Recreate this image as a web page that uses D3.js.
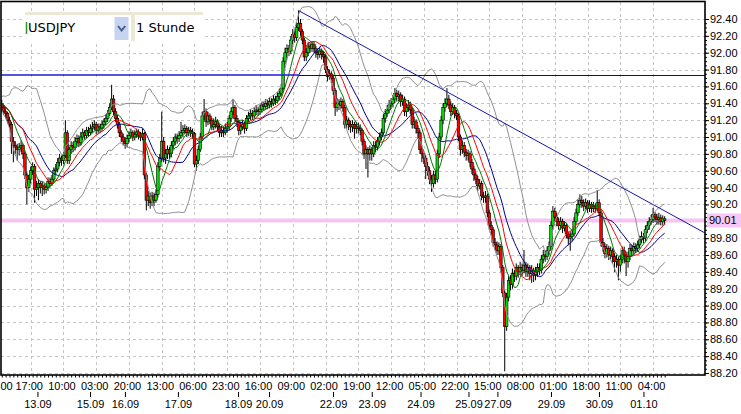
<!DOCTYPE html>
<html><head><meta charset="utf-8">
<script src="https://cdn.jsdelivr.net/npm/d3@7/dist/d3.min.js"></script>
<style>body{margin:0;background:#fff;}svg{display:block;}</style>
</head><body>
<svg id="c" width="741" height="414"></svg>
<script>
// ---- data (USDJPY, 1 hour bars) ----
const firstOpen = 91.50;
const close = [
91.45,91.40,91.35,91.30,91.28,91.20,91.15,90.95,90.90,90.88,90.85,90.88,90.90,90.80,90.55,90.40,90.50,
90.60,90.65,90.38,90.40,90.45,90.40,90.42,90.38,90.40,90.47,90.45,90.50,90.60,90.62,90.70,90.75,90.72,
90.78,91.05,90.72,90.85,90.90,90.88,90.95,90.98,90.93,91.00,91.05,91.02,91.08,91.05,91.10,91.12,91.15,
91.08,91.12,91.10,91.15,91.18,91.22,91.28,91.35,91.45,91.30,91.22,91.15,91.05,91.00,90.95,90.92,90.98,
91.02,91.05,91.00,91.03,91.06,91.02,91.00,91.04,90.55,90.25,90.30,90.22,90.30,90.25,90.32,90.65,90.75,
90.95,90.75,90.80,90.85,90.80,90.90,90.95,91.00,90.98,91.02,91.05,91.08,91.10,91.05,91.08,91.06,91.04,
90.68,90.72,90.85,91.00,91.25,91.30,91.18,91.25,91.20,91.12,91.15,91.18,91.12,91.05,91.08,91.05,91.10,
91.12,91.22,91.30,91.35,91.22,91.18,91.08,91.12,91.15,91.10,91.22,91.25,91.28,91.25,91.30,91.32,91.30,
91.33,91.38,91.36,91.40,91.38,91.42,91.40,91.45,91.43,91.48,91.52,91.58,91.90,92.00,92.05,92.02,92.15,
92.22,92.18,92.30,92.35,92.25,92.15,91.95,92.00,92.08,92.05,92.10,92.05,92.00,91.98,92.02,91.98,91.95,
91.80,91.72,91.75,91.70,91.55,91.35,91.40,91.38,91.42,91.35,91.15,91.20,91.15,91.12,91.15,91.10,91.12,
91.10,91.08,90.95,90.80,90.85,90.80,90.85,90.80,90.90,90.88,90.95,91.00,91.05,91.22,91.28,91.32,91.38,
91.40,91.45,91.52,91.48,91.50,91.42,91.45,91.30,91.35,91.38,91.32,91.15,91.18,91.10,91.05,90.85,90.80,
90.75,90.65,90.60,90.50,90.45,90.55,90.50,90.80,91.00,91.20,91.35,91.40,91.45,91.38,91.30,91.35,91.28,
91.25,91.00,90.85,90.90,90.82,90.78,90.80,90.70,90.62,90.55,90.50,90.42,90.45,90.30,90.28,90.30,90.10,
89.95,89.90,89.75,89.72,89.65,89.70,89.45,89.15,88.75,89.10,89.30,89.25,89.38,89.35,89.45,89.40,89.45,
89.42,89.48,89.40,89.45,89.38,89.42,89.36,89.40,89.45,89.42,89.55,89.60,89.58,89.65,89.70,89.95,90.12,
90.05,90.00,89.95,90.00,89.92,89.95,89.85,89.80,89.82,89.85,90.00,90.10,90.20,90.25,90.22,90.18,90.22,
90.15,90.20,90.15,90.18,90.15,90.22,90.10,89.75,89.70,89.62,89.68,89.60,89.65,89.58,89.52,89.55,89.48,
89.55,89.65,89.60,89.52,89.58,89.68,89.65,89.70,89.68,89.72,89.78,89.82,89.80,89.90,89.95,90.00,90.02,
90.08,90.05,90.02,90.04,90.00,90.03,90.01];
const high = [
91.55,91.50,91.44,91.38,91.34,91.30,91.24,91.18,91.00,90.95,90.92,90.93,90.96,90.92,90.82,90.58,90.55,
90.65,90.70,90.68,90.48,90.50,90.48,90.47,90.45,90.45,90.52,90.52,90.55,90.64,90.68,90.75,90.80,90.78,
90.82,91.20,91.08,90.88,90.95,90.94,91.00,91.03,91.02,91.06,91.10,91.08,91.12,91.12,91.15,91.18,91.20,
91.18,91.16,91.16,91.20,91.22,91.27,91.32,91.40,91.62,91.50,91.34,91.26,91.18,91.08,91.04,91.00,91.03,
91.07,91.10,91.08,91.08,91.10,91.09,91.06,91.10,91.06,90.58,90.36,90.34,90.35,90.34,90.38,90.70,90.80,
91.30,91.00,90.86,90.90,90.88,90.95,91.00,91.04,91.04,91.07,91.18,91.14,91.15,91.13,91.12,91.12,91.10,
91.06,90.78,90.90,91.05,91.30,91.45,91.34,91.30,91.28,91.23,91.22,91.24,91.21,91.15,91.13,91.12,91.16,
91.18,91.26,91.35,91.45,91.38,91.26,91.20,91.18,91.20,91.18,91.26,91.30,91.33,91.32,91.35,91.38,91.36,
91.38,91.42,91.42,91.45,91.44,91.47,91.46,91.50,91.49,91.53,91.57,91.63,91.95,92.06,92.10,92.09,92.20,
92.28,92.26,92.36,92.50,92.40,92.28,92.18,92.06,92.13,92.12,92.14,92.13,92.08,92.04,92.07,92.05,92.02,
91.98,91.84,91.80,91.78,91.74,91.58,91.46,91.45,91.47,91.45,91.38,91.25,91.23,91.19,91.20,91.18,91.18,
91.17,91.15,91.10,90.98,90.90,90.88,90.90,90.88,90.95,90.95,91.00,91.05,91.10,91.27,91.33,91.38,91.44,
91.46,91.50,91.58,91.56,91.55,91.53,91.50,91.48,91.40,91.44,91.42,91.35,91.24,91.21,91.14,91.08,90.90,
90.84,90.78,90.70,90.64,90.55,90.60,90.60,90.85,91.05,91.25,91.40,91.46,91.58,91.50,91.42,91.40,91.38,
91.32,91.28,91.03,90.96,90.94,90.86,90.85,90.83,90.74,90.66,90.58,90.54,90.50,90.48,90.35,90.36,90.33,
90.14,90.00,89.93,89.80,89.76,89.75,89.73,89.48,89.18,89.15,89.35,89.36,89.44,89.42,89.50,89.48,89.52,
89.50,89.66,89.52,89.50,89.48,89.48,89.45,89.46,89.50,89.50,89.60,89.66,89.65,89.70,89.76,90.00,90.18,
90.16,90.10,90.04,90.05,90.03,90.00,89.98,89.88,89.88,89.90,90.05,90.15,90.26,90.32,90.30,90.26,90.27,
90.25,90.25,90.23,90.23,90.21,90.37,90.26,90.13,89.80,89.74,89.73,89.71,89.70,89.68,89.62,89.60,89.58,
89.60,89.70,89.70,89.64,89.64,89.73,89.72,89.75,89.74,89.77,89.83,89.88,89.86,89.95,90.00,90.05,90.08,
90.16,90.11,90.09,90.10,90.08,90.07,90.06];
const low = [
91.40,91.36,91.30,91.26,91.22,91.16,91.10,90.80,90.70,90.80,90.72,90.78,90.82,90.74,90.50,90.20,90.35,
90.45,90.55,90.22,90.30,90.25,90.33,90.30,90.32,90.33,90.36,90.40,90.42,90.47,90.55,90.58,90.65,90.66,
90.68,90.75,90.68,90.68,90.80,90.82,90.84,90.90,90.88,90.90,90.96,90.97,90.98,91.00,91.02,91.05,91.08,
91.03,91.04,91.05,91.07,91.10,91.14,91.18,91.25,91.32,91.26,91.18,91.10,91.00,90.94,90.90,90.86,90.88,
90.94,90.98,90.95,90.96,90.99,90.97,90.95,90.96,90.50,90.13,90.18,90.15,90.18,90.18,90.22,90.28,90.60,
90.70,90.70,90.68,90.74,90.74,90.76,90.86,90.90,90.92,90.94,90.98,91.00,91.03,91.00,91.01,91.00,90.98,
90.64,90.60,90.68,90.82,90.97,91.20,91.12,91.14,91.15,91.08,91.08,91.10,91.07,91.00,91.00,91.00,91.02,
91.05,91.08,91.18,91.26,91.18,91.12,91.02,91.03,91.08,91.04,91.07,91.18,91.20,91.20,91.22,91.26,91.25,
91.26,91.29,91.31,91.32,91.33,91.34,91.35,91.37,91.38,91.40,91.44,91.48,91.55,91.86,91.95,91.96,91.98,
92.10,92.12,92.14,92.26,92.20,92.10,91.90,91.90,91.96,92.00,92.01,92.00,91.94,91.92,91.94,91.92,91.88,
91.76,91.66,91.68,91.64,91.50,91.25,91.30,91.32,91.33,91.30,91.10,91.10,91.08,91.05,91.06,90.98,91.04,
91.04,91.02,90.90,90.74,90.62,90.52,90.72,90.72,90.76,90.82,90.84,90.90,90.96,91.02,91.17,91.24,91.28,
91.33,91.35,91.40,91.42,91.42,91.36,91.37,91.25,91.24,91.30,91.27,91.10,91.10,91.04,90.98,90.80,90.70,
90.68,90.50,90.54,90.44,90.35,90.40,90.44,90.46,90.75,90.96,91.15,91.30,91.36,91.33,91.25,91.26,91.22,
91.20,90.95,90.78,90.80,90.76,90.72,90.72,90.64,90.56,90.48,90.44,90.36,90.38,90.25,90.22,90.22,90.05,
89.90,89.84,89.70,89.66,89.60,89.60,89.40,89.10,88.22,88.70,89.05,89.18,89.20,89.28,89.30,89.33,89.36,
89.35,89.38,89.34,89.34,89.30,89.27,89.28,89.30,89.34,89.36,89.38,89.50,89.52,89.54,89.60,89.66,89.90,
90.00,89.94,89.90,89.90,89.86,89.88,89.80,89.72,89.65,89.76,89.82,89.96,90.06,90.16,90.16,90.12,90.14,
90.10,90.11,90.10,90.11,90.10,90.12,90.06,89.70,89.64,89.56,89.57,89.54,89.55,89.50,89.40,89.45,89.30,
89.40,89.50,89.50,89.35,89.45,89.54,89.58,89.60,89.62,89.64,89.68,89.74,89.74,89.76,89.86,89.90,89.96,
89.98,89.99,89.96,89.96,89.95,89.95,89.96];

const hourLabels = ["00","17:00","10:00","03:00","20:00","13:00","06:00","23:00","16:00","09:00","02:00",
  "19:00","12:00","05:00","22:00","15:00","08:00","01:00","18:00","11:00","04:00"];
const hourBars = [0,17,34,51,68,85,102,119,136,153,170,187,204,221,238,255,272,289,306,323,340];
const dateLabels = ["13.09","15.09","16.09","17.09","18.09","20.09","22.09","23.09","24.09","25.09","27.09","29.09","30.09","01.10"];
const dateBars = [20.5,47.8,65.9,93.4,124.6,140.7,173.9,194,219.3,244.2,259.2,287,311.9,335];
const priceLabels = [92.4,92.2,92.0,91.8,91.6,91.4,91.2,91.0,90.8,90.6,90.4,90.2,89.8,89.6,89.4,89.2,89.0,88.8,88.6,88.4,88.2];
const gridPrices = [92.4,92.2,92.0,91.8,91.6,91.4,91.2,91.0,90.8,90.6,90.4,90.2,90.0,89.8,89.6,89.4,89.2,89.0,88.8,88.6,88.4,88.2];
const lastPrice = 90.01;
const levelPrice = 91.73;
const levelSplitBar = 156;
const trendStart = [156, 92.50];
const trendEnd = [367, 89.86];
const periods = {fast: 8, mid: 14, slow: 21};

// ---- layout ----
const L = 1, R = 705, T = 2, B = 375;
const svg = d3.select("#c");
const x = d3.scaleLinear().domain([17, 340]).range([30.7, 653.1]);
const y = d3.scaleLinear().domain([88.2, 92.4]).range([373, 19]);
const AX_FONT = "Liberation Sans, Arial, sans-serif";

const bars = close.map((c, i) => ({i, o: i === 0 ? firstOpen : close[i-1], c, h: high[i], l: low[i]}));

svg.append("defs").append("clipPath").attr("id", "clip")
  .append("rect").attr("x", L).attr("y", T).attr("width", R - L).attr("height", B - T);

const plot = svg.append("g").attr("clip-path", "url(#clip)");

// grid
plot.append("g").selectAll("line").data(gridPrices).join("line")
  .attr("x1", L).attr("x2", R).attr("y1", d => Math.round(y(d)) + 0.5).attr("y2", d => Math.round(y(d)) + 0.5)
  .attr("stroke", "#c4c4c4").attr("stroke-dasharray", "3,3");
plot.append("g").selectAll("line").data(hourBars).join("line")
  .attr("y1", T).attr("y2", B).attr("x1", d => Math.round(x(d)) + 0.5).attr("x2", d => Math.round(x(d)) + 0.5)
  .attr("stroke", "#c4c4c4").attr("stroke-dasharray", "3,3");

// last price line (pink)
plot.append("line").attr("x1", L).attr("x2", R).attr("y1", y(lastPrice)).attr("y2", y(lastPrice))
  .attr("stroke", "#f4c4f4").attr("stroke-width", 4);

// indicators
function sma(arr, n) { return arr.map((_, i) => d3.mean(arr.slice(Math.max(0, i - n + 1), i + 1))); }
function sdev(arr, n) { return arr.map((_, i) => { const w = arr.slice(Math.max(0, i - n + 1), i + 1); const m = d3.mean(w); return Math.sqrt(d3.mean(w, v => (v - m) * (v - m))); }); }
const maFast = sma(close, periods.fast), maMid = sma(close, periods.mid), maSlow = sma(close, periods.slow);
const sd = sdev(close, periods.slow);
const bbUp = maSlow.map((m, i) => m + 2 * sd[i]), bbLo = maSlow.map((m, i) => m - 2 * sd[i]);
const line = d3.line().x((d, i) => x(i)).y(d => y(d));

// candles
const cg = plot.append("g");
cg.selectAll("line").data(bars).join("line")
  .attr("x1", d => x(d.i)).attr("x2", d => x(d.i))
  .attr("y1", d => y(d.h)).attr("y2", d => y(d.l))
  .attr("stroke", "#000").attr("stroke-width", 1);
cg.selectAll("rect").data(bars).join("rect")
  .attr("x", d => x(d.i) - 1.3).attr("width", 2.6)
  .attr("y", d => y(Math.max(d.o, d.c))).attr("height", d => Math.max(1, Math.abs(y(d.o) - y(d.c))))
  .attr("fill", d => d.c >= d.o ? "#00e000" : "#ff0000")
  .attr("stroke", "#000").attr("stroke-width", 0.6);

[[bbUp, "#8f8f8f"], [bbLo, "#8f8f8f"], [maSlow, "#00008c"], [maMid, "#ff0000"], [maFast, "#007a00"]].forEach(([s, col]) => {
  plot.append("path").attr("d", line(s)).attr("fill", "none").attr("stroke", col).attr("stroke-width", 1);
});

// level line (blue on the left part, dark on the right) and trend line
const ly = y(levelPrice);
plot.append("line").attr("x1", x(levelSplitBar)).attr("x2", R).attr("y1", Math.round(ly) + 0.5).attr("y2", Math.round(ly) + 0.5)
  .attr("stroke", "#14143c").attr("stroke-width", 1);
plot.append("line").attr("x1", L).attr("x2", x(levelSplitBar)).attr("y1", Math.round(ly)).attr("y2", Math.round(ly))
  .attr("stroke", "#1c1cdc").attr("stroke-width", 1.3);
plot.append("line").attr("x1", x(trendStart[0])).attr("y1", y(trendStart[1]))
  .attr("x2", x(trendEnd[0])).attr("y2", y(trendEnd[1]))
  .attr("stroke", "#1515a8").attr("stroke-width", 1);

// frame
svg.append("rect").attr("x", L).attr("y", T - 0.5).attr("width", R - L).attr("height", B - T + 0.5)
  .attr("fill", "none").attr("stroke", "#000").attr("stroke-width", 1.6);

// y axis
const minor = d3.range(0, 85).map(k => 88.2 + k * 0.05).filter(v => v <= 92.45);
const yMinor = svg.append("g").attr("transform", `translate(${R},0)`)
  .call(d3.axisRight(y).tickValues(minor).tickSize(2).tickFormat(""));
const yAx = svg.append("g").attr("transform", `translate(${R},0)`)
  .call(d3.axisRight(y).tickValues(priceLabels).tickSize(4).tickPadding(1).tickFormat(d3.format(".2f")));
[yMinor, yAx].forEach(g => { g.select(".domain").remove(); g.selectAll("line").attr("stroke", "#000"); });
yAx.selectAll("text").attr("font-family", AX_FONT).attr("font-size", 11).attr("fill", "#000");

// last price label
const lp = svg.append("g");
lp.append("rect").attr("x", 707).attr("y", y(lastPrice) - 7).attr("width", 34).attr("height", 14).attr("fill", "#f8c6f8");
lp.append("text").attr("x", 709).attr("y", y(lastPrice)).attr("dy", "0.35em")
  .attr("font-family", AX_FONT).attr("font-size", 11).text(d3.format(".2f")(lastPrice));

// x axis
const xMinor = svg.append("g").attr("transform", `translate(0,${B})`)
  .call(d3.axisBottom(x).tickValues(d3.range(0, 347, 2)).tickSize(2.5).tickFormat(""));
xMinor.select(".domain").remove();
xMinor.selectAll("line").attr("stroke", "#000");
const xHour = svg.append("g").attr("transform", `translate(-2,${B})`)
  .call(d3.axisBottom(x).tickValues(hourBars).tickSize(0).tickPadding(7).tickFormat((d, i) => hourLabels[i]));
xHour.select(".domain").remove();
xHour.selectAll("text").attr("font-family", AX_FONT).attr("font-size", 11).attr("fill", "#000");
xHour.selectAll("text").filter((d, i) => i === 0).attr("text-anchor", "start").attr("x", 2 - x(0));
const xDate = svg.append("g").attr("transform", `translate(0,392)`)
  .call(d3.axisBottom(x).tickValues(dateBars).tickSize(5).tickPadding(3).tickFormat((d, i) => dateLabels[i]));
xDate.select(".domain").remove();
xDate.selectAll("line").attr("stroke", "#000");
xDate.selectAll("text").attr("font-family", AX_FONT).attr("font-size", 11).attr("fill", "#000");

// symbol / period widget
const w = svg.append("g");
w.append("rect").attr("x", 25).attr("y", 12).attr("width", 178).attr("height", 29).attr("fill", "#fff");
w.append("rect").attr("x", 25).attr("y", 12).attr("width", 178).attr("height", 3).attr("fill", "#ece8d6");
w.append("rect").attr("x", 131).attr("y", 12).attr("width", 4).attr("height", 29).attr("fill", "#ece8d6");
w.append("line").attr("x1", 26.5).attr("x2", 26.5).attr("y1", 22).attr("y2", 34).attr("stroke", "#2f8f2f").attr("stroke-width", 1.5);
w.append("text").attr("x", 28).attr("y", 32).attr("font-family", "DejaVu Sans, Verdana, sans-serif").attr("font-size", 13).text("USDJPY");
w.append("rect").attr("x", 114.5).attr("y", 17).attr("width", 14).attr("height", 23).attr("fill", "#c6d4f1");
w.append("path").attr("d", "M118,26 L121.6,30.5 L125.2,26").attr("fill", "none").attr("stroke", "#4a5b86").attr("stroke-width", 2);
w.append("text").attr("x", 136).attr("y", 32).attr("font-family", "DejaVu Sans, Verdana, sans-serif").attr("font-size", 13).text("1 Stunde");
</script>
</body></html>
